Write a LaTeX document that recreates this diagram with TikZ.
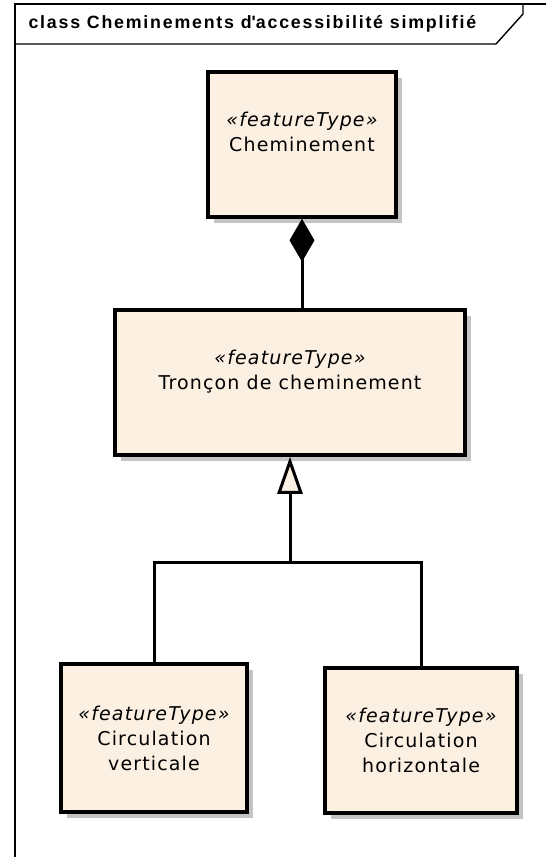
\documentclass[tikz,border=0pt]{standalone}
\usepackage{fontspec}
\setmainfont{DejaVu Sans}
\newfontfamily\titlefont{Liberation Sans}[LetterSpace=10]
\newfontfamily\umlfont{DejaVu Sans}[LetterSpace=6]
\usetikzlibrary{shapes,positioning,calc,arrows.meta,shadows}
\definecolor{featFill}{RGB}{251,240,226}
\definecolor{shadowGray}{RGB}{196,196,196}

\begin{document}
\begin{tikzpicture}
  [x=1pt,y=-1pt,
   frameL/.style={line width=1.4pt},
   featN/.style={draw,line width=3.6pt,fill=featFill,align=center,
     general shadow={fill=shadowGray,draw=none,shadow xshift=6pt,shadow yshift=-6pt},
     font=\umlfont\fontsize{19}{25}\selectfont},
   linkL/.style={line width=3pt},
   compL/.style={linkL,{Diamond[length=43pt,width=25pt,fill=black]}-},
   genL/.style={linkL,-{Triangle[length=37pt,width=25pt,fill=featFill]}},
  ]
  \useasboundingbox (0,0) rectangle (546,857);

 \draw[frameL] (15,857) -- (15,4) -- (546,4);
 \draw[frameL] (15,44) -- (496,44) -- (523,14) -- (523,4);
 \node[anchor=west,font=\titlefont\bfseries\fontsize{17.8}{20}\selectfont] (title) at (25,24)
   {class Cheminements d\textquotesingle accessibilité simplifié};

 \node[featN,minimum width=188pt,minimum height=145pt] (chem) at (302,144.5)
   {{\itshape «featureType»}\\Cheminement\\\mbox{}};
 \node[featN,minimum width=350pt,minimum height=145pt] (tron) at (290,382.5)
   {{\itshape «featureType»}\\Tronçon de cheminement\\\mbox{}};
 \node[featN,minimum width=186pt,minimum height=148pt] (cverti) at (154,738)
   {{\itshape «featureType»}\\Circulation\\verticale};
 \node[featN,minimum width=192pt,minimum height=145pt] (chori) at (421,740.5)
   {{\itshape «featureType»}\\Circulation\\horizontale};

 \coordinate (bus) at (290,562);
 \draw[compL] (chem.south) -- (chem.south |- tron.north);
 \draw[genL] (bus) -- (tron.south);
 \draw[linkL] (cverti.north) |- (bus) -| (chori.north);
\end{tikzpicture}
\end{document}
